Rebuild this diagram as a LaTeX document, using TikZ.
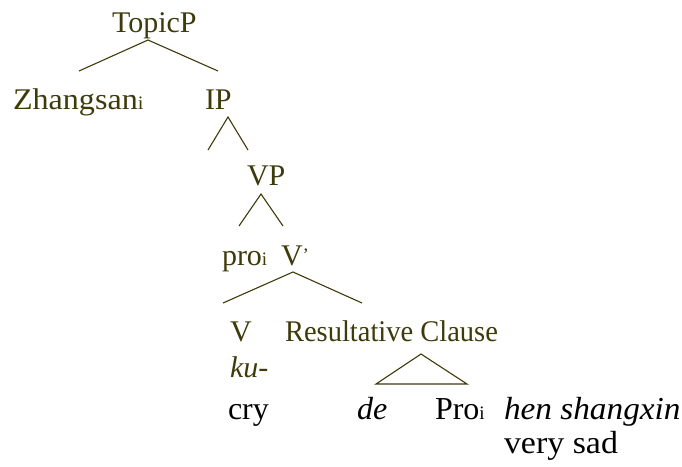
\documentclass[tikz,border=0pt]{standalone}
\usepackage{fontspec}
\setmainfont{Liberation Serif}
\definecolor{olive}{RGB}{62,58,10}
\newcommand{\sbi}{{\fontsize{19}{19}\selectfont i}}
\newcommand{\prm}{\raisebox{4pt}{\fontsize{19}{19}\selectfont\textquoteright}}
\begin{document}
\begin{tikzpicture}[x=1pt,y=-1pt,
  lab/.style={anchor=base west,inner sep=0pt,outer sep=0pt},
  ol/.style={lab,text=olive,font=\fontsize{30}{32}\selectfont},
  bk/.style={lab,text=black,font=\fontsize{32}{34}\selectfont},
  branch/.style={draw=olive,line width=1.1pt}]
\useasboundingbox (0,0) rectangle (682,466);
\node[ol] (topicp) at (112,32) {TopicP};
\node[ol] (zhang) at (13,109) {\scalebox{1.07}[1]{Zhangsan\sbi}};
\node[ol] (ip) at (205,109) {IP};
\node[ol] (vp) at (247,185) {VP};
\node[ol] (pro) at (222,265) {pro\sbi};
\node[ol] (vbar) at (281,265) {V\prm};
\node[ol] (v) at (230,341) {V};
\node[ol] (rc) at (285,341) {\scalebox{0.95}[1]{Resultative Clause}};
\node[ol] (ku) at (230,377) {\itshape ku-};
\node[bk] (cry) at (228,419) {cry};
\node[bk] (de) at (357,419) {\itshape de};
\node[bk] (pro2) at (435,419) {Pro\sbi};
\node[bk] (hen) at (504,419) {\scalebox{1.04}[1]{\itshape hen shangxin}};
\node[bk] (sad) at (504,453) {\scalebox{1.06}[1]{very sad}};
% branch points
\coordinate (a1) at (148,40); \coordinate (a1l) at (79,71); \coordinate (a1r) at (218,71);
\coordinate (a2) at (228,117); \coordinate (a2l) at (208,150); \coordinate (a2r) at (248,150);
\coordinate (a3) at (261,194); \coordinate (a3l) at (239,226); \coordinate (a3r) at (283,226);
\coordinate (a4) at (293,272); \coordinate (a4l) at (223,303); \coordinate (a4r) at (362,303);
\coordinate (a5) at (421,354); \coordinate (a5l) at (376,384); \coordinate (a5r) at (467,384);
\draw[branch] (a1l) -- (a1) -- (a1r);
\draw[branch] (a2l) -- (a2) -- (a2r);
\draw[branch] (a3l) -- (a3) -- (a3r);
\draw[branch] (a4l) -- (a4) -- (a4r);
\draw[branch] (a5l) -- (a5) -- (a5r) -- cycle;
\end{tikzpicture}
\end{document}
